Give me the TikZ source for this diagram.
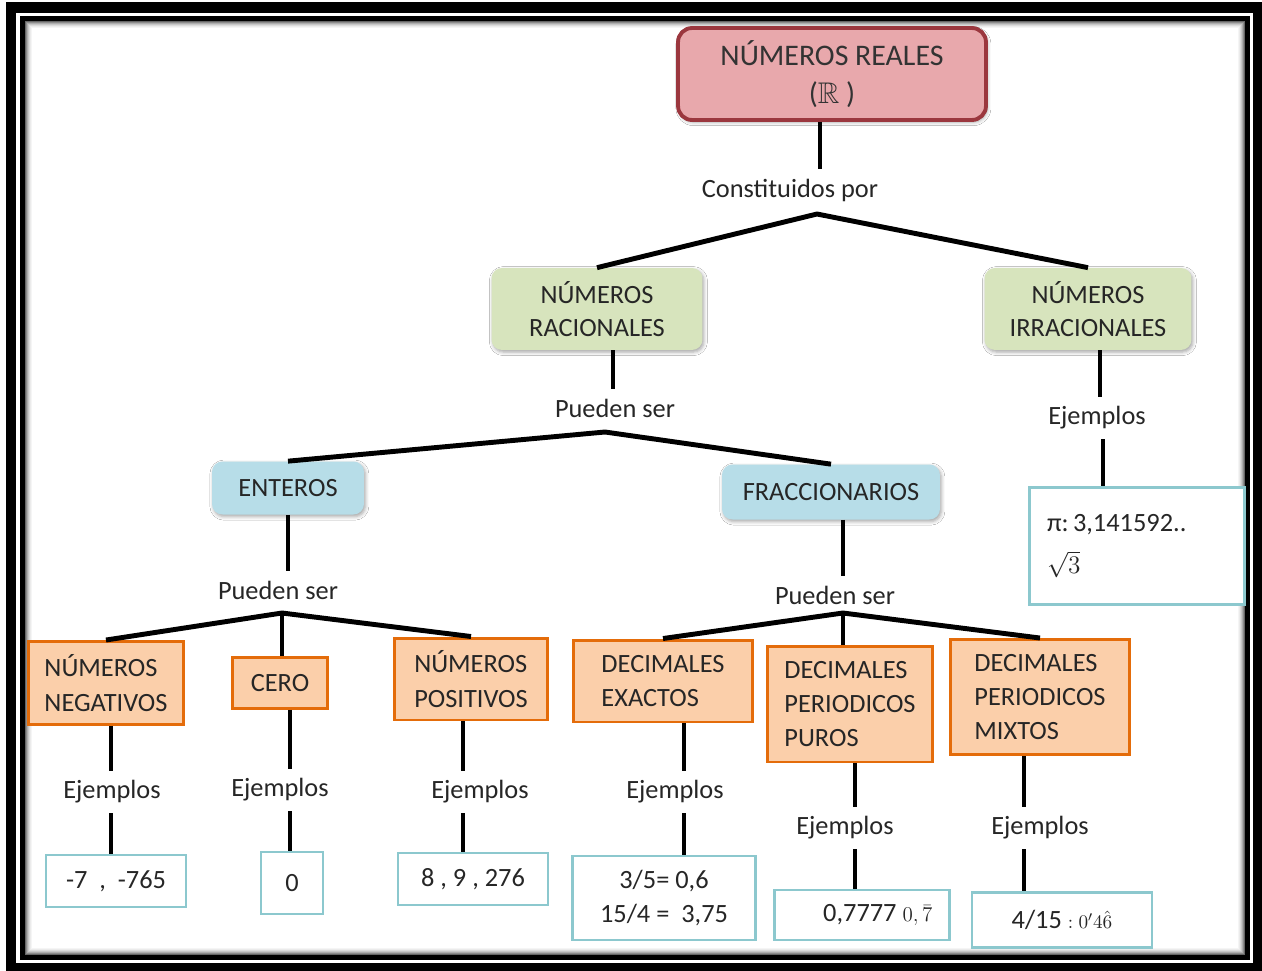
\documentclass[tikz,border=0pt]{standalone}
\usepackage{fontspec}
\setmainfont{Carlito}
\usepackage{amsmath,amssymb}
\usetikzlibrary{shadows.blur}
\definecolor{realfill}{RGB}{232,168,172}
\definecolor{realdraw}{RGB}{155,55,62}
\definecolor{racfill}{RGB}{215,228,189}
\definecolor{entfill}{RGB}{183,221,232}
\definecolor{tipofill}{RGB}{251,207,170}
\definecolor{tipodraw}{RGB}{228,108,10}
\definecolor{ejdraw}{RGB}{140,200,206}
\tikzset{
	soft/.style = {blur shadow={shadow xshift=0.8pt, shadow yshift=-1.2pt, shadow blur radius=2pt, shadow opacity=35}},
	link/.style = {line width=2.8pt, black, line join=round},
	linktext/.style = {font=\fontsize{15}{18}\selectfont, text=black!85, inner xsep=2pt, inner ysep=5.5pt},
	realbox/.style = {rectangle, rounded corners=8pt, fill=realfill, draw=realdraw, line width=2.2pt, soft, align=center, text=black!80, font=\fontsize{17}{22}\selectfont},
	racbox/.style = {rectangle, rounded corners=6pt, fill=racfill, soft, align=center, text=black!85, font=\fontsize{15}{19}\selectfont},
	entbox/.style = {rectangle, rounded corners=6pt, fill=entfill, soft, align=center, text=black!85, font=\fontsize{15}{19}\selectfont},
	tipobox/.style = {rectangle, fill=tipofill, draw=tipodraw, line width=1.7pt, align=left, text=black!85, font=\fontsize{15}{19.5}\selectfont},
	ejbox/.style = {rectangle, fill=white, draw=ejdraw, line width=1.5pt, align=center, text=black!85, font=\fontsize{15}{19}\selectfont}
}
\begin{document}
\begin{tikzpicture}[x=0.02cm, y=-0.02cm]
    \useasboundingbox (0,0) rectangle (1262,971);
    % Frame
    \fill [black] (6,2) rectangle (1262,971);
    \fill [white] (16,13) rectangle (1253,963);
    \fill [black] (20,16) rectangle (1250,960);
    \fill [white] (25,21) rectangle (1245,955);
    \foreach \i/\g in {0/60,1/45,2/32,3/22,4/14,5/8,6/4}
        \draw [black!\g, line width=0.02cm] (25.5+\i,21.5+\i) rectangle (1244.5-\i,954.5-\i);

    % Nodes
    \node (reales) [realbox, minimum width=6.16cm, minimum height=1.84cm] at (832,74) {NÚMEROS REALES\\($\mathbb{R}$ )};
    \node (constit) [linktext] at (790,190) {Constituidos por};
    \coordinate (a1) at (817,214);

    \node (racionales) [racbox, minimum width=4.22cm, minimum height=1.64cm] at (597,309) {NÚMEROS\\RACIONALES};
    \node (irracionales) [racbox, minimum width=4.14cm, minimum height=1.64cm] at (1088,309) {NÚMEROS\\IRRACIONALES};

    \node (pueden1) [linktext] at (615,408) {Pueden ser};
    \coordinate (a2) at (605,432);
    \node (ejirr) [linktext] at (1097,418) {Ejemplos};
    \node (pi) [ejbox, minimum width=4.3cm, minimum height=2.34cm, text width=3.6cm, align=left] at (1137,546) {π:\,3,141592..\\[5pt]$\sqrt{3}$};

    \node (enteros) [entbox, minimum width=3.04cm, minimum height=1.06cm] at (288,488) {ENTEROS};
    \node (fracc) [entbox, minimum width=4.36cm, minimum height=1.1cm] at (831,492) {FRACCIONARIOS};

    \node (pueden2) [linktext] at (278,590) {Pueden ser};
    \coordinate (a3) at (282,613);
    \node (pueden3) [linktext] at (835,595) {Pueden ser};
    \coordinate (a4) at (843,613);

    \node (negativos) [tipobox, minimum width=3.12cm, minimum height=1.66cm] at (106,683) {NÚMEROS\\NEGATIVOS};
    \node (cero) [tipobox, minimum width=1.9cm, minimum height=1.02cm] at (280,683) {CERO};
    \node (positivos) [tipobox, minimum width=3.06cm, minimum height=1.64cm] at (471,679) {NÚMEROS\\POSITIVOS};
    \node (exactos) [tipobox, minimum width=3.6cm, minimum height=1.64cm] at (663,681) {DECIMALES\\EXACTOS};
    \node (puros) [tipobox, minimum width=3.3cm, minimum height=2.32cm] at (850,704) {DECIMALES\\PERIODICOS\\PUROS};
    \node (mixtos) [tipobox, minimum width=3.6cm, minimum height=2.3cm] at (1040,697) {DECIMALES\\PERIODICOS\\MIXTOS};

    \node (ejneg) [linktext] at (112,792) {Ejemplos};
    \node (ejcero) [linktext] at (280,790) {Ejemplos};
    \node (ejpos) [linktext] at (480,792) {Ejemplos};
    \node (ejexa) [linktext] at (675,792) {Ejemplos};
    \node (ejpur) [linktext] at (845,828) {Ejemplos};
    \node (ejmix) [linktext] at (1040,828) {Ejemplos};

    \node (exneg) [ejbox, minimum width=2.8cm, minimum height=1.04cm] at (116,881) {-7~~,~~-765};
    \node (excero) [ejbox, minimum width=1.24cm, minimum height=1.24cm] at (292,883) {0};
    \node (expos) [ejbox, minimum width=3cm, minimum height=1.04cm] at (473,879) {8~,~9~,~276};
    \node (exexa) [ejbox, minimum width=3.66cm, minimum height=1.68cm] at (664,898) {3/5= 0,6\\15/4 =~~3,75};
    \node (expur) [ejbox, minimum width=3.5cm, minimum height=1cm] at (862,915) {\hspace{1.2em}0,7777 {\fontsize{13}{15}\selectfont$0{,}\,\bar{7}$}};
    \node (exmix) [ejbox, minimum width=3.6cm, minimum height=1.1cm] at (1062,920) {4/15 {\fontsize{11}{13}\selectfont$:0'4\hat{6}$}};

    % Lines
    \draw [link] (reales.south -| 820,0) -- (constit.north -| 820,0);
    \draw [link] (racionales.north) -- (a1) -- (irracionales.north);
    \draw [link] (racionales.south -| 613,0) -- (pueden1.north -| 613,0);
    \draw [link] (enteros.north) -- (a2) -- (fracc.north);
    \draw [link] (irracionales.south -| 1100,0) -- (ejirr.north -| 1100,0);
    \draw [link] (ejirr.south -| 1103,0) -- (pi.north -| 1103,0);

    \draw [link] (enteros.south -| 288,0) -- (pueden2.north -| 288,0);
    \draw [link] (negativos.north) -- (a3) -- (positivos.north);
    \draw [link] (a3) -- (cero.north -| a3);
    \draw [link] (fracc.south -| 843,0) -- (pueden3.north -| 843,0);
    \draw [link] (exactos.north) -- (a4) -- (mixtos.north);
    \draw [link] (a4) -- (puros.north -| a4);

    \draw [link] (negativos.south -| 111,0) -- (ejneg.north -| 111,0);
    \draw [link] (ejneg.south -| 111,0) -- (exneg.north -| 111,0);
    \draw [link] (cero.south -| 290,0) -- (ejcero.north -| 290,0);
    \draw [link] (ejcero.south -| 290,0) -- (excero.north -| 290,0);
    \draw [link] (positivos.south -| 463,0) -- (ejpos.north -| 463,0);
    \draw [link] (ejpos.south -| 463,0) -- (expos.north -| 463,0);
    \draw [link] (exactos.south -| 684,0) -- (ejexa.north -| 684,0);
    \draw [link] (ejexa.south -| 684,0) -- (exexa.north -| 684,0);
    \draw [link] (puros.south -| 855,0) -- (ejpur.north -| 855,0);
    \draw [link] (ejpur.south -| 855,0) -- (expur.north -| 855,0);
    \draw [link] (mixtos.south -| 1024,0) -- (ejmix.north -| 1024,0);
    \draw [link] (ejmix.south -| 1024,0) -- (exmix.north -| 1024,0);

\end{tikzpicture}
\end{document}
